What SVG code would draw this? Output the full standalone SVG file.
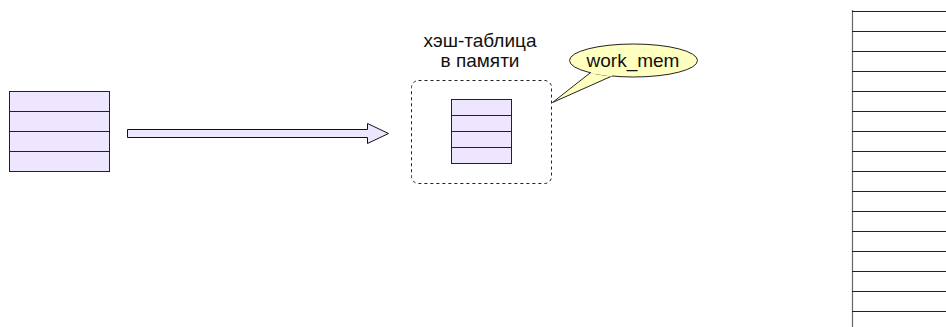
<svg xmlns="http://www.w3.org/2000/svg" width="946" height="327" viewBox="0 0 946 327">
<style>
.tbl{fill:#eee6ff;stroke:#222;stroke-width:1}
.ln{stroke:#222;stroke-width:1;fill:none}
.lbl{font-family:"Liberation Sans",Arial,sans-serif;font-size:19px;fill:#111;text-anchor:middle}
</style>
<rect width="946" height="327" fill="#fff"/>
<g id="source-table">
<rect class="tbl" x="9.5" y="91.5" width="100" height="80"/>
<path class="ln" d="M9.5 111.5H109.5M9.5 131.5H109.5M9.5 151.5H109.5"/>
</g>
<g id="connectors">
<path d="M127.5 129.5H367.5V123.5L388.5 133.5L367.5 143.5V137.5H127.5Z" fill="#eee6ff" stroke="#111" stroke-width="1"/>
</g>
<g id="hash-table">
<text class="lbl" x="480" y="47">хэш-таблица</text>
<text class="lbl" x="480" y="67">в памяти</text>
<rect x="411.5" y="80.5" width="140" height="103" rx="7" fill="none" stroke="#222" stroke-dasharray="3,3"/>
<rect class="tbl" x="451.5" y="99.5" width="60" height="64"/>
<path class="ln" d="M451.5 115.5H511.5M451.5 131.5H511.5M451.5 147.5H511.5"/>
</g>
<g id="work-mem">
<path d="M590 73L552.5 102.5L612 76" fill="#ffffc0" stroke="#222"/>
<ellipse cx="633.5" cy="60.5" rx="64" ry="16.5" fill="#ffffc0" stroke="#222"/>
<path d="M591 72.5L612 75.5" stroke="#ffffc0" stroke-width="2"/>
<text class="lbl" x="633" y="67">work_mem</text>
</g>
<g id="big-table">
<path d="M852.5 10V327" stroke="#666" stroke-width="1.2"/>
<path class="ln" d="M852 11.5H946M852 31.5H946M852 51.5H946M852 71.5H946M852 91.5H946M852 111.5H946M852 131.5H946M852 151.5H946M852 171.5H946M852 191.5H946M852 211.5H946M852 231.5H946M852 251.5H946M852 271.5H946M852 291.5H946M852 311.5H946"/>
</g>
</svg>
